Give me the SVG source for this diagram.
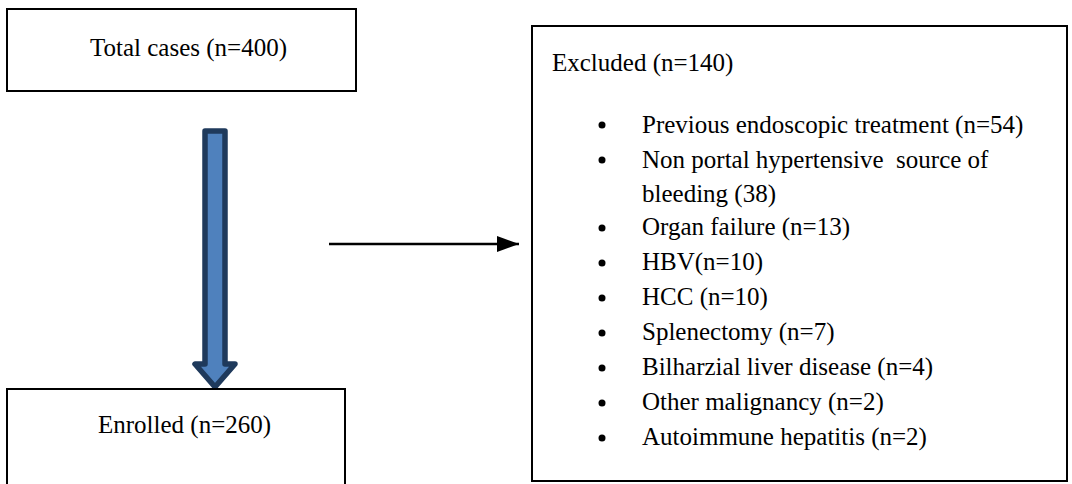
<svg xmlns="http://www.w3.org/2000/svg" width="1072" height="484" viewBox="0 0 1072 484">
<style>
.box{fill:#fff;stroke:#000;stroke-width:2}
.t{font-family:"Liberation Serif","Times New Roman","DejaVu Serif",serif;font-size:25px;fill:#000;white-space:pre}
.conn{stroke:#000;stroke-width:2.6;fill:none}
.big{fill:#4f81bd;stroke:#1f3a5c;stroke-width:5.5;stroke-linejoin:round}
</style>
<defs>
<marker id="ah" markerUnits="userSpaceOnUse" markerWidth="24" markerHeight="18" refX="22" refY="8" orient="auto">
<path d="M0,0 L22,8 L0,16 Z" fill="#000"/>
</marker>
</defs>
<rect width="1072" height="484" fill="#fff"/>
<g id="connectors">
<path class="big" d="M205,131 H225 V364 H235 L215,387 L195,364 H205 Z"/>
<line class="conn" x1="329" y1="244" x2="519" y2="244" marker-end="url(#ah)"/>
</g>
<g id="total">
<rect class="box" x="7" y="9" width="349" height="82"/>
<text class="t" x="90" y="56">Total cases (n=400)</text>
</g>
<g id="enrolled">
<rect class="box" x="7" y="389" width="338" height="110"/>
<text class="t" x="98" y="433">Enrolled (n=260)</text>
</g>
<g id="excluded">
<rect class="box" x="532" y="26" width="535" height="455"/>
<text class="t" x="552" y="71">Excluded (n=140)</text>
<g>
<circle cx="602" cy="125" r="3.5"/><text class="t" x="642" y="133">Previous endoscopic treatment (n=54)</text>
<circle cx="602" cy="160" r="3.5"/><text class="t" x="642" y="168" xml:space="preserve">Non portal hypertensive  source of</text>
<text class="t" x="642" y="202">bleeding (38)</text>
<circle cx="602" cy="228" r="3.5"/><text class="t" x="642" y="235">Organ failure (n=13)</text>
<circle cx="602" cy="263" r="3.5"/><text class="t" x="642" y="270">HBV(n=10)</text>
<circle cx="602" cy="298" r="3.5"/><text class="t" x="642" y="305">HCC (n=10)</text>
<circle cx="602" cy="333" r="3.5"/><text class="t" x="642" y="340">Splenectomy (n=7)</text>
<circle cx="602" cy="368" r="3.5"/><text class="t" x="642" y="375">Bilharzial liver disease (n=4)</text>
<circle cx="602" cy="403" r="3.5"/><text class="t" x="642" y="410">Other malignancy (n=2)</text>
<circle cx="602" cy="438" r="3.5"/><text class="t" x="642" y="445">Autoimmune hepatitis (n=2)</text>
</g>
</g>
</svg>
